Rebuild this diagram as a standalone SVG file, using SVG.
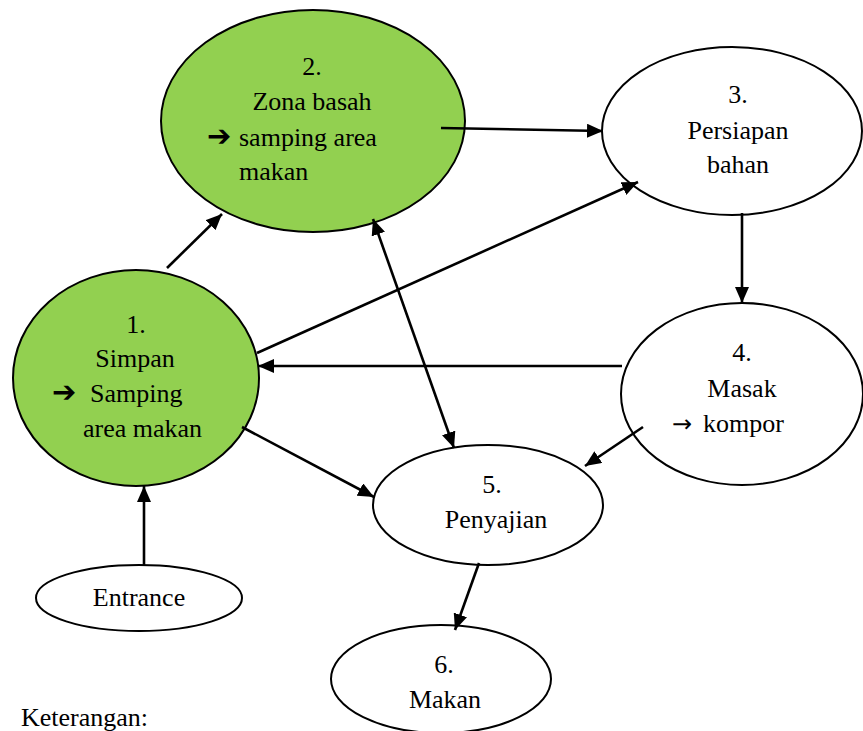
<svg xmlns="http://www.w3.org/2000/svg" width="863" height="731" viewBox="0 0 863 731">
  <style>
    .node { stroke: #000; stroke-width: 2; }
    .green { fill: #92D050; }
    .white { fill: #fff; }
    .c { text-anchor: middle; }
    .edge { stroke: #000; stroke-width: 2.6; fill: none; }
  </style>
  <defs>
    <marker id="arrow" viewBox="0 0 16 14" refX="16" refY="7" markerWidth="16" markerHeight="14" markerUnits="userSpaceOnUse" orient="auto-start-reverse">
      <path d="M0,0 L16,7 L0,14 Z" fill="#000"/>
    </marker>
  </defs>
  <rect width="863" height="731" fill="#fff"/>

  <g font-family="'Liberation Serif', 'DejaVu Serif', serif" font-size="26" fill="#000">
  <!-- nodes -->
  <g id="n2">
    <ellipse class="node green" cx="313" cy="121" rx="152" ry="111"/>
    <text class="c" x="312" y="75">2.</text>
    <text class="c" x="312" y="110">Zona basah</text>
    <text x="207" y="146" font-family="'DejaVu Sans', sans-serif" font-size="29" font-weight="bold">➔</text>
    <text x="239" y="146">samping area</text>
    <text x="239" y="180">makan</text>
  </g>
  <g id="n3">
    <ellipse class="node white" cx="732" cy="131" rx="130" ry="84"/>
    <text class="c" x="738" y="103">3.</text>
    <text class="c" x="738" y="139">Persiapan</text>
    <text class="c" x="738" y="173">bahan</text>
  </g>
  <g id="n1">
    <ellipse class="node green" cx="136" cy="378" rx="123" ry="108"/>
    <text class="c" x="136" y="333">1.</text>
    <text class="c" x="135" y="367">Simpan</text>
    <text x="52" y="402" font-family="'DejaVu Sans', sans-serif" font-size="29" font-weight="bold">➔</text>
    <text x="90" y="402">Samping</text>
    <text x="83" y="437">area makan</text>
  </g>
  <g id="n4">
    <ellipse class="node white" cx="742" cy="394" rx="121" ry="91"/>
    <text class="c" x="742" y="361">4.</text>
    <text class="c" x="742" y="397">Masak</text>
    <text x="672" y="432"><tspan font-family="'DejaVu Sans', sans-serif" font-size="24">→</tspan><tspan x="703">kompor</tspan></text>
  </g>
  <g id="n5">
    <ellipse class="node white" cx="488" cy="505" rx="115" ry="60"/>
    <text class="c" x="492" y="493">5.</text>
    <text class="c" x="496" y="528">Penyajian</text>
  </g>
  <g id="entrance">
    <ellipse class="node white" cx="139" cy="598" rx="103" ry="33"/>
    <text class="c" x="139" y="606">Entrance</text>
  </g>
  <g id="n6">
    <ellipse class="node white" cx="441" cy="679" rx="110" ry="54"/>
    <text class="c" x="444" y="673">6.</text>
    <text class="c" x="445" y="708">Makan</text>
  </g>

  <text x="21" y="726">Keterangan:</text>
  </g>

  <!-- connectors -->
  <g id="connectors">
    <line class="edge" x1="144" y1="565" x2="144" y2="486" marker-end="url(#arrow)"/>
    <line class="edge" x1="167" y1="268" x2="222" y2="214" marker-end="url(#arrow)"/>
    <line class="edge" x1="441" y1="128" x2="603" y2="131" marker-end="url(#arrow)"/>
    <line class="edge" x1="257" y1="353" x2="638" y2="182" marker-end="url(#arrow)"/>
    <line class="edge" x1="742" y1="213" x2="742" y2="303" marker-end="url(#arrow)"/>
    <line class="edge" x1="622" y1="366" x2="258" y2="366" marker-end="url(#arrow)"/>
    <line class="edge" x1="373" y1="219" x2="454" y2="448" marker-start="url(#arrow)" marker-end="url(#arrow)"/>
    <line class="edge" x1="242" y1="427" x2="374" y2="497" marker-end="url(#arrow)"/>
    <line class="edge" x1="643" y1="427" x2="585" y2="466" marker-end="url(#arrow)"/>
    <line class="edge" x1="479" y1="563" x2="455" y2="630" marker-end="url(#arrow)"/>
  </g>
</svg>
